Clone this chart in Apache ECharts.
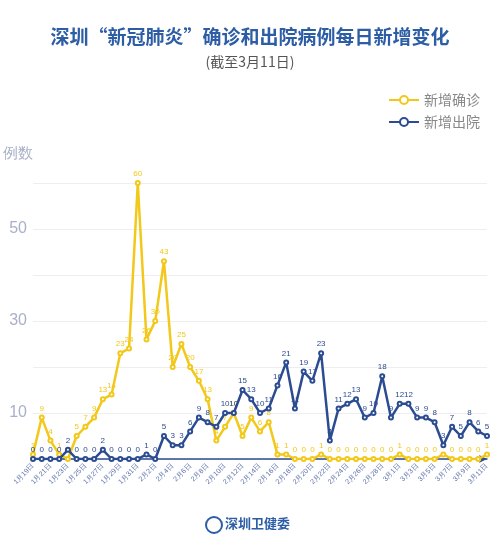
<!DOCTYPE html>
<html>
<head>
<meta charset="utf-8">
<script src="https://cdn.jsdelivr.net/npm/echarts@6/dist/echarts.min.js"></script>
<style>html,body{margin:0;padding:0;background:#fff}#main{width:500px;height:548px}</style>
</head>
<body>
<div id="main"></div>
<script>
// 日期 1月19日 - 3月11日
var dates = [
  '1月19日','1月20日','1月21日','1月22日','1月23日','1月24日','1月25日','1月26日','1月27日','1月28日','1月29日','1月30日','1月31日',
  '2月1日','2月2日','2月3日','2月4日','2月5日','2月6日','2月7日','2月8日','2月9日','2月10日','2月11日','2月12日','2月13日','2月14日',
  '2月15日','2月16日','2月17日','2月18日','2月19日','2月20日','2月21日','2月22日','2月23日','2月24日','2月25日','2月26日','2月27日',
  '2月28日','2月29日','3月1日','3月2日','3月3日','3月4日','3月5日','3月6日','3月7日','3月8日','3月9日','3月10日','3月11日'
]
// 新增确诊
var confirmed = [1,9,4,1,0,5,7,9,13,14,23,24,60,
  26,30,43,20,25,20,17,13,4,7,10,5,9,6,
  8,1,1,0,0,0,1,0,0,0,0,0,0,
  0,0,1,0,0,0,0,1,0,0,0,0,1]
// 新增出院
var discharged = [0,0,0,0,2,0,0,0,2,0,0,0,0,
  1,0,5,3,3,6,9,8,7,10,10,15,13,10,
  11,16,21,11,19,17,23,4,11,12,13,9,10,
  18,9,12,12,9,9,8,3,7,5,8,6,5]
var yTickLabels = [10, 30, 50]

var yellow = '#F2C81A'
var blue = '#2C4C91'

var myChart = echarts.init(document.getElementById('main'))

var option = {
  backgroundColor: '#fff',
  title: [
    {
      text: '深圳“新冠肺炎”确诊和出院病例每日新增变化',
      left: 'center',
      top: 22,
      textStyle: {color: '#2C5DA5', fontSize: 19, fontWeight: 'bold', fontFamily: 'Noto Sans CJK SC'}
    },
    {
      text: '(截至3月11日)',
      left: 'center',
      top: 50,
      textStyle: {color: '#555', fontSize: 14, fontWeight: 'normal', fontFamily: 'Noto Sans CJK SC'}
    }
  ],
  legend: {
    orient: 'vertical',
    right: 15,
    top: 88,
    itemGap: 8,
    itemWidth: 30,
    itemHeight: 10,
    textStyle: {color: '#888', fontSize: 14, fontFamily: 'Noto Sans CJK SC'},
    data: ['新增确诊', '新增出院']
  },
  grid: {left: 31, right: 13, top: 183, bottom: 89},
  xAxis: {
    type: 'category',
    data: dates,
    boundaryGap: false,
    axisLine: {lineStyle: {color: blue, width: 1.5}, symbol: ['none', 'arrow'], symbolSize: [6, 8]},
    axisTick: {show: false},
    axisLabel: {
      interval: 1,
      rotate: 45,
      fontSize: 7,
      color: '#5a6fa8',
      margin: 6
    }
  },
  yAxis: {
    type: 'value',
    min: 0,
    max: 60,
    interval: 10,
    name: '例数',
    nameLocation: 'end',
    nameGap: 22,
    nameTextStyle: {color: '#a9b0c8', fontSize: 15, align: 'right', padding: [0, 0, 0, 0]},
    axisLine: {show: false},
    axisTick: {show: false},
    splitLine: {lineStyle: {color: '#eeeeee'}},
    axisLabel: {
      color: '#a9b0c8',
      fontSize: 16,
      margin: 6,
      formatter: function (v) { return yTickLabels.indexOf(v) >= 0 ? v : '' }
    }
  },
  series: [
    {
      name: '新增确诊',
      type: 'line',
      data: confirmed,
      symbol: 'emptyCircle',
      symbolSize: 4,
      lineStyle: {color: yellow, width: 2.5},
      itemStyle: {color: yellow},
      label: {show: true, position: 'top', color: yellow, fontSize: 8, distance: 2},
      z: 2
    },
    {
      name: '新增出院',
      type: 'line',
      data: discharged,
      symbol: 'emptyCircle',
      symbolSize: 4,
      lineStyle: {color: blue, width: 2.5},
      itemStyle: {color: blue},
      label: {show: true, position: 'top', color: blue, fontSize: 8, distance: 2},
      z: 3
    }
  ],
  graphic: [
    {
      type: 'circle',
      left: 205,
      top: 516,
      shape: {r: 8},
      style: {fill: '#fff', stroke: '#2C5DA5', lineWidth: 2}
    },
    {
      type: 'text',
      left: 225,
      top: 517,
      style: {text: '深圳卫健委', fill: '#2C5DA5', font: 'bold 13px "Noto Sans CJK SC"'}
    }
  ]
}

myChart.setOption(option)
</script>
</body>
</html>
